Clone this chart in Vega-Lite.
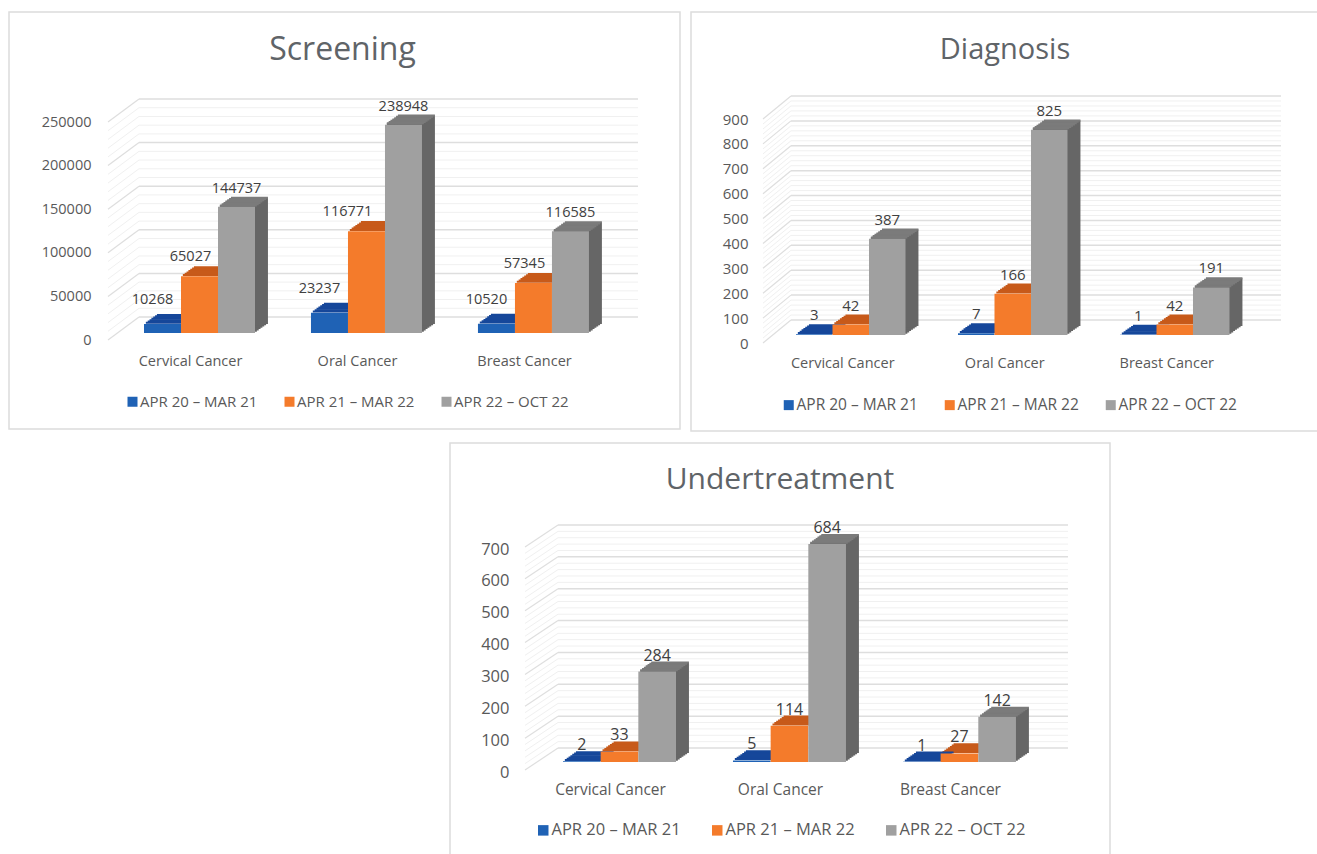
{
"$schema":"https://vega.github.io/schema/vega-lite/v6.json",
"background":"white",
"padding":{"left":8,"top":11,"right":0,"bottom":0},
"autosize":{"type":"pad"},
"bounds":"full",
"spacing":10,
"resolve":{"scale":{"color":"independent"},"legend":{"color":"independent"}},
"config":{"view":{"stroke":"#dcdcdc","strokeWidth":1.5,"fill":"white"},"font":"Open Sans","text":{"font":"Open Sans"},"axis":{"labelFont":"Open Sans"},"legend":{"labelFont":"Open Sans"},"title":{"font":"Open Sans"}},
"vconcat":[
{"resolve":{"scale":{"color":"independent"},"legend":{"color":"independent"}},
"hconcat":[
{"width":671,"height":417,
"title":{"text":"Screening","fontSize":32,"fontWeight":"normal","color":"#5f6468","offset":-55,"dx":-2,"anchor":"middle","frame":"group"},
"resolve":{"scale":{"x":"independent"},"axis":{"x":"independent","y":"independent"}},
"layer":[
{"data":{"values":[10000,20000,30000,40000,60000,70000,80000,90000,110000,120000,130000,140000,160000,170000,180000,190000,210000,220000,230000,240000]},
"encoding":{"x":{"datum":0.0585,"type":"quantitative","scale":{"domain":[0,1],"range":[99,629]},"axis":null},"x2":{"datum":1},"y":{"field":"data","type":"quantitative","scale":{"domain":[0,250000],"range":[321,103]},"axis":null}},
"layer":[{"mark":{"type":"rule","color":"#f0f0f0","strokeWidth":1,"yOffset":-16}},
{"mark":{"type":"rule","color":"#f0f0f0","strokeWidth":1,"yOffset":7,"y2Offset":-16},"encoding":{"x":{"datum":0,"type":"quantitative","axis":null},"x2":{"datum":0.0585},"y2":{"field":"data"}}}]},
{"data":{"values":[0,50000,100000,150000,200000,250000]},
"encoding":{"x":{"datum":0.0585,"type":"quantitative","scale":{"domain":[0,1],"range":[99,629]},"axis":null},"x2":{"datum":1},"y":{"field":"data","type":"quantitative","scale":{"domain":[0,250000],"range":[321,103]},"axis":null}},
"layer":[{"mark":{"type":"rule","color":"#dedede","strokeWidth":1.5,"yOffset":-16}},
{"mark":{"type":"rule","color":"#dedede","strokeWidth":1.2,"yOffset":7,"y2Offset":-16},"encoding":{"x":{"datum":0,"type":"quantitative","axis":null},"x2":{"datum":0.0585},"y2":{"field":"data"}}}]},
{"data":{"values":[
{"cancer":"Cervical Cancer","period":"APR 20 – MAR 21","value":10268},{"cancer":"Cervical Cancer","period":"APR 21 – MAR 22","value":65027},{"cancer":"Cervical Cancer","period":"APR 22 – OCT 22","value":144737},
{"cancer":"Oral Cancer","period":"APR 20 – MAR 21","value":23237},{"cancer":"Oral Cancer","period":"APR 21 – MAR 22","value":116771},{"cancer":"Oral Cancer","period":"APR 22 – OCT 22","value":238948},
{"cancer":"Breast Cancer","period":"APR 20 – MAR 21","value":10520},{"cancer":"Breast Cancer","period":"APR 21 – MAR 22","value":57345},{"cancer":"Breast Cancer","period":"APR 22 – OCT 22","value":116585}]},
"resolve":{"scale":{"xOffset":"independent"},"axis":{"x":"independent","y":"independent"}},
"encoding":{
"x":{"field":"cancer","type":"nominal","scale":{"domain":["Cervical Cancer","Oral Cancer","Breast Cancer"],"range":[135,580],"paddingInner":0.335,"paddingOuter":0},"axis":null},
"xOffset":{"field":"period","type":"nominal","scale":{"type":"band","domain":["APR 20 – MAR 21","APR 21 – MAR 22","APR 22 – OCT 22"],"range":[0,111],"paddingInner":0,"paddingOuter":0}},
"y":{"field":"value","type":"quantitative","scale":{"domain":[0,250000],"range":[321,103]},"axis":null}},
"layer":[
{"transform":[{"filter":"datum.period=='APR 22 – OCT 22'"}],
"resolve":{"scale":{"xOffset":"independent"}},
"layer":[
{"mark":{"type":"bar","color":"#666666","yOffset":-1.3,"y2Offset":-1.3},"encoding":{"xOffset":{"field":"period","type":"nominal","scale":{"type":"band","domain":["APR 20 – MAR 21","APR 21 – MAR 22","APR 22 – OCT 22"],"range":[1.85,112.85]}}}},
{"mark":{"type":"bar","color":"#666666","yOffset":-2.6,"y2Offset":-2.6},"encoding":{"xOffset":{"field":"period","type":"nominal","scale":{"type":"band","domain":["APR 20 – MAR 21","APR 21 – MAR 22","APR 22 – OCT 22"],"range":[3.7,114.7]}}}},
{"mark":{"type":"bar","color":"#666666","yOffset":-3.9,"y2Offset":-3.9},"encoding":{"xOffset":{"field":"period","type":"nominal","scale":{"type":"band","domain":["APR 20 – MAR 21","APR 21 – MAR 22","APR 22 – OCT 22"],"range":[5.55,116.55]}}}},
{"mark":{"type":"bar","color":"#666666","yOffset":-5.2,"y2Offset":-5.2},"encoding":{"xOffset":{"field":"period","type":"nominal","scale":{"type":"band","domain":["APR 20 – MAR 21","APR 21 – MAR 22","APR 22 – OCT 22"],"range":[7.4,118.4]}}}},
{"mark":{"type":"bar","color":"#666666","yOffset":-6.5,"y2Offset":-6.5},"encoding":{"xOffset":{"field":"period","type":"nominal","scale":{"type":"band","domain":["APR 20 – MAR 21","APR 21 – MAR 22","APR 22 – OCT 22"],"range":[9.25,120.25]}}}},
{"mark":{"type":"bar","color":"#666666","yOffset":-7.8,"y2Offset":-7.8},"encoding":{"xOffset":{"field":"period","type":"nominal","scale":{"type":"band","domain":["APR 20 – MAR 21","APR 21 – MAR 22","APR 22 – OCT 22"],"range":[11.1,122.1]}}}},
{"mark":{"type":"bar","color":"#666666","yOffset":-9.1,"y2Offset":-9.1},"encoding":{"xOffset":{"field":"period","type":"nominal","scale":{"type":"band","domain":["APR 20 – MAR 21","APR 21 – MAR 22","APR 22 – OCT 22"],"range":[12.95,123.95]}}}}
]},
{"resolve":{"scale":{"xOffset":"independent"}},
"encoding":{"y2":{"field":"value"},"stroke":{"field":"period","type":"nominal","scale":{"range":["#16479a","#c75a1a","#7b7b7b"]},"legend":null}},
"layer":[
{"mark":{"type":"bar","strokeWidth":2,"yOffset":-1.3,"y2Offset":-1.3},"encoding":{"xOffset":{"field":"period","type":"nominal","scale":{"type":"band","range":[1.85,112.85]}}}},
{"mark":{"type":"bar","strokeWidth":2,"yOffset":-2.6,"y2Offset":-2.6},"encoding":{"xOffset":{"field":"period","type":"nominal","scale":{"type":"band","range":[3.7,114.7]}}}},
{"mark":{"type":"bar","strokeWidth":2,"yOffset":-3.9,"y2Offset":-3.9},"encoding":{"xOffset":{"field":"period","type":"nominal","scale":{"type":"band","range":[5.55,116.55]}}}},
{"mark":{"type":"bar","strokeWidth":2,"yOffset":-5.2,"y2Offset":-5.2},"encoding":{"xOffset":{"field":"period","type":"nominal","scale":{"type":"band","range":[7.4,118.4]}}}},
{"mark":{"type":"bar","strokeWidth":2,"yOffset":-6.5,"y2Offset":-6.5},"encoding":{"xOffset":{"field":"period","type":"nominal","scale":{"type":"band","range":[9.25,120.25]}}}},
{"mark":{"type":"bar","strokeWidth":2,"yOffset":-7.8,"y2Offset":-7.8},"encoding":{"xOffset":{"field":"period","type":"nominal","scale":{"type":"band","range":[11.1,122.1]}}}},
{"mark":{"type":"bar","strokeWidth":2,"yOffset":-9.1,"y2Offset":-9.1},"encoding":{"xOffset":{"field":"period","type":"nominal","scale":{"type":"band","range":[12.95,123.95]}}}}
]},
{"mark":{"type":"bar"},"encoding":{
"color":{"field":"period","type":"nominal","scale":{"domain":["APR 20 – MAR 21","APR 21 – MAR 22","APR 22 – OCT 22"],"range":["#1f62b5","#f47b2b","#a0a0a0"]},"legend":{"orient":"none","legendX":116,"legendY":382,"direction":"horizontal","title":null,"symbolType":"square","symbolSize":100,"symbolStrokeWidth":0,"labelFontSize":15,"labelColor":"#595959","labelOffset":0,"columnPadding":24,"padding":0,"labelLimit":300}},
"x":{"field":"cancer","type":"nominal","axis":{"orient":"bottom","offset":-75,"title":null,"domain":false,"ticks":false,"labelAngle":0,"labelPadding":0,"labelFontSize":14.5,"labelColor":"#595959","labelOffset":-9}},
"y":{"field":"value","type":"quantitative","axis":{"offset":-82,"title":null,"domain":false,"ticks":false,"grid":false,"values":[0,50000,100000,150000,200000,250000],"format":"d","labelPadding":0,"labelFontSize":14.5,"labelColor":"#595959","labelOffset":7}}}},
{"transform":[{"filter":"datum.period=='APR 22 – OCT 22'"}],"mark":{"type":"text","fontSize":14.5,"color":"#404040","dy":-18},"encoding":{"text":{"field":"value"}}},
{"transform":[{"filter":"datum.period=='APR 21 – MAR 22' && datum.value<100000"}],"mark":{"type":"text","fontSize":14.5,"color":"#404040","dx":-9,"dy":-19},"encoding":{"text":{"field":"value"}}},
{"transform":[{"filter":"datum.period=='APR 21 – MAR 22' && datum.value>100000"}],"mark":{"type":"text","fontSize":14.5,"color":"#404040","dx":-19,"dy":-19},"encoding":{"text":{"field":"value"}}},
{"transform":[{"filter":"datum.period=='APR 20 – MAR 21'"}],"mark":{"type":"text","fontSize":14.5,"color":"#404040","dx":-10,"dy":-24},"encoding":{"text":{"field":"value"}}}
]}
]},
{"width":628,"height":419,
"title":{"text":"Diagnosis","fontSize":29,"fontWeight":"normal","color":"#5f6468","offset":-53,"anchor":"middle","frame":"group"},
"resolve":{"scale":{"x":"independent"},"axis":{"x":"independent","y":"independent"}},
"layer":[
{"data":{"values":[20,40,60,80,120,140,160,180,220,240,260,280,320,340,360,380,420,440,460,480,520,540,560,580,620,640,660,680,720,740,760,780,820,840,860,880]},
"encoding":{"x":{"datum":0.054,"type":"quantitative","scale":{"domain":[0,1],"range":[72,590]},"axis":null},"x2":{"datum":1},"y":{"field":"data","type":"quantitative","scale":{"domain":[0,900],"range":[323,99]},"axis":null}},
"layer":[{"mark":{"type":"rule","color":"#f0f0f0","strokeWidth":1,"yOffset":-15}},
{"mark":{"type":"rule","color":"#f0f0f0","strokeWidth":1,"yOffset":8,"y2Offset":-15},"encoding":{"x":{"datum":0,"type":"quantitative","axis":null},"x2":{"datum":0.054},"y2":{"field":"data"}}}]},
{"data":{"values":[0,100,200,300,400,500,600,700,800,900]},
"encoding":{"x":{"datum":0.054,"type":"quantitative","scale":{"domain":[0,1],"range":[72,590]},"axis":null},"x2":{"datum":1},"y":{"field":"data","type":"quantitative","scale":{"domain":[0,900],"range":[323,99]},"axis":null}},
"layer":[{"mark":{"type":"rule","color":"#dedede","strokeWidth":1.5,"yOffset":-15}},
{"mark":{"type":"rule","color":"#dedede","strokeWidth":1.2,"yOffset":8,"y2Offset":-15},"encoding":{"x":{"datum":0,"type":"quantitative","axis":null},"x2":{"datum":0.054},"y2":{"field":"data"}}}]},
{"data":{"values":[
{"cancer":"Cervical Cancer","period":"APR 20 – MAR 21","value":3},{"cancer":"Cervical Cancer","period":"APR 21 – MAR 22","value":42},{"cancer":"Cervical Cancer","period":"APR 22 – OCT 22","value":387},
{"cancer":"Oral Cancer","period":"APR 20 – MAR 21","value":7},{"cancer":"Oral Cancer","period":"APR 21 – MAR 22","value":166},{"cancer":"Oral Cancer","period":"APR 22 – OCT 22","value":825},
{"cancer":"Breast Cancer","period":"APR 20 – MAR 21","value":1},{"cancer":"Breast Cancer","period":"APR 21 – MAR 22","value":42},{"cancer":"Breast Cancer","period":"APR 22 – OCT 22","value":191}]},
"resolve":{"scale":{"xOffset":"independent"},"axis":{"x":"independent","y":"independent"}},
"encoding":{
"x":{"field":"cancer","type":"nominal","scale":{"domain":["Cervical Cancer","Oral Cancer","Breast Cancer"],"range":[105,538.5],"paddingInner":0.324,"paddingOuter":0},"axis":null},
"xOffset":{"field":"period","type":"nominal","scale":{"type":"band","domain":["APR 20 – MAR 21","APR 21 – MAR 22","APR 22 – OCT 22"],"range":[0,109.5],"paddingInner":0,"paddingOuter":0}},
"y":{"field":"value","type":"quantitative","scale":{"domain":[0,900],"range":[323,99]},"axis":null}},
"layer":[
{"transform":[{"filter":"datum.period=='APR 22 – OCT 22'"}],
"resolve":{"scale":{"xOffset":"independent"}},
"layer":[
{"mark":{"type":"bar","color":"#666666","yOffset":-1.3,"y2Offset":-1.3},"encoding":{"xOffset":{"field":"period","type":"nominal","scale":{"type":"band","domain":["APR 20 – MAR 21","APR 21 – MAR 22","APR 22 – OCT 22"],"range":[1.85,111.35]}}}},
{"mark":{"type":"bar","color":"#666666","yOffset":-2.6,"y2Offset":-2.6},"encoding":{"xOffset":{"field":"period","type":"nominal","scale":{"type":"band","domain":["APR 20 – MAR 21","APR 21 – MAR 22","APR 22 – OCT 22"],"range":[3.7,113.2]}}}},
{"mark":{"type":"bar","color":"#666666","yOffset":-3.9,"y2Offset":-3.9},"encoding":{"xOffset":{"field":"period","type":"nominal","scale":{"type":"band","domain":["APR 20 – MAR 21","APR 21 – MAR 22","APR 22 – OCT 22"],"range":[5.55,115.05]}}}},
{"mark":{"type":"bar","color":"#666666","yOffset":-5.2,"y2Offset":-5.2},"encoding":{"xOffset":{"field":"period","type":"nominal","scale":{"type":"band","domain":["APR 20 – MAR 21","APR 21 – MAR 22","APR 22 – OCT 22"],"range":[7.4,116.9]}}}},
{"mark":{"type":"bar","color":"#666666","yOffset":-6.5,"y2Offset":-6.5},"encoding":{"xOffset":{"field":"period","type":"nominal","scale":{"type":"band","domain":["APR 20 – MAR 21","APR 21 – MAR 22","APR 22 – OCT 22"],"range":[9.25,118.75]}}}},
{"mark":{"type":"bar","color":"#666666","yOffset":-7.8,"y2Offset":-7.8},"encoding":{"xOffset":{"field":"period","type":"nominal","scale":{"type":"band","domain":["APR 20 – MAR 21","APR 21 – MAR 22","APR 22 – OCT 22"],"range":[11.1,120.6]}}}},
{"mark":{"type":"bar","color":"#666666","yOffset":-9.1,"y2Offset":-9.1},"encoding":{"xOffset":{"field":"period","type":"nominal","scale":{"type":"band","domain":["APR 20 – MAR 21","APR 21 – MAR 22","APR 22 – OCT 22"],"range":[12.95,122.45]}}}}
]},
{"resolve":{"scale":{"xOffset":"independent"}},
"encoding":{"y2":{"field":"value"},"stroke":{"field":"period","type":"nominal","scale":{"range":["#16479a","#c75a1a","#7b7b7b"]},"legend":null}},
"layer":[
{"mark":{"type":"bar","strokeWidth":2,"yOffset":-1.3,"y2Offset":-1.3},"encoding":{"xOffset":{"field":"period","type":"nominal","scale":{"type":"band","range":[1.85,111.35]}}}},
{"mark":{"type":"bar","strokeWidth":2,"yOffset":-2.6,"y2Offset":-2.6},"encoding":{"xOffset":{"field":"period","type":"nominal","scale":{"type":"band","range":[3.7,113.2]}}}},
{"mark":{"type":"bar","strokeWidth":2,"yOffset":-3.9,"y2Offset":-3.9},"encoding":{"xOffset":{"field":"period","type":"nominal","scale":{"type":"band","range":[5.55,115.05]}}}},
{"mark":{"type":"bar","strokeWidth":2,"yOffset":-5.2,"y2Offset":-5.2},"encoding":{"xOffset":{"field":"period","type":"nominal","scale":{"type":"band","range":[7.4,116.9]}}}},
{"mark":{"type":"bar","strokeWidth":2,"yOffset":-6.5,"y2Offset":-6.5},"encoding":{"xOffset":{"field":"period","type":"nominal","scale":{"type":"band","range":[9.25,118.75]}}}},
{"mark":{"type":"bar","strokeWidth":2,"yOffset":-7.8,"y2Offset":-7.8},"encoding":{"xOffset":{"field":"period","type":"nominal","scale":{"type":"band","range":[11.1,120.6]}}}},
{"mark":{"type":"bar","strokeWidth":2,"yOffset":-9.1,"y2Offset":-9.1},"encoding":{"xOffset":{"field":"period","type":"nominal","scale":{"type":"band","range":[12.95,122.45]}}}}
]},
{"mark":{"type":"bar"},"encoding":{
"color":{"field":"period","type":"nominal","scale":{"domain":["APR 20 – MAR 21","APR 21 – MAR 22","APR 22 – OCT 22"],"range":["#1f62b5","#f47b2b","#a0a0a0"]},"legend":{"orient":"none","legendX":90,"legendY":385,"direction":"horizontal","title":null,"symbolType":"square","symbolSize":100,"symbolStrokeWidth":0,"labelFontSize":15.5,"labelColor":"#595959","labelOffset":0,"columnPadding":24,"padding":0,"labelLimit":300}},
"x":{"field":"cancer","type":"nominal","axis":{"orient":"bottom","offset":-75,"title":null,"domain":false,"ticks":false,"labelAngle":0,"labelPadding":0,"labelFontSize":14.5,"labelColor":"#595959","labelOffset":-8}},
"y":{"field":"value","type":"quantitative","axis":{"offset":-57,"title":null,"domain":false,"ticks":false,"grid":false,"values":[0,100,200,300,400,500,600,700,800,900],"format":"d","labelPadding":0,"labelFontSize":15,"labelColor":"#595959","labelOffset":8}}}},
{"transform":[{"filter":"datum.value>=0"}],"mark":{"type":"text","fontSize":15,"color":"#404040","dy":-19},"encoding":{"text":{"field":"value"}}}
]}
]}
],"spacing":11,"bounds":"flush"},
{"resolve":{"scale":{"color":"independent"},"legend":{"color":"independent"}},
"hconcat":[
{"width":431,"height":10,"view":{"stroke":null,"fill":null},"data":{"values":[]},"mark":{"type":"rule"},"encoding":{}},
{"width":660,"height":414,
"title":{"text":"Undertreatment","fontSize":30,"fontWeight":"normal","color":"#5f6468","offset":-52,"anchor":"middle","frame":"group"},
"resolve":{"scale":{"x":"independent"},"axis":{"x":"independent","y":"independent"}},
"layer":[
{"data":{"values":[20,40,60,80,120,140,160,180,220,240,260,280,320,340,360,380,420,440,460,480,520,540,560,580,620,640,660,680]},
"encoding":{"x":{"datum":0.0608,"type":"quantitative","scale":{"domain":[0,1],"range":[75,618]},"axis":null},"x2":{"datum":1},"y":{"field":"data","type":"quantitative","scale":{"domain":[0,700],"range":[319,96]},"axis":null}},
"layer":[{"mark":{"type":"rule","color":"#f0f0f0","strokeWidth":1,"yOffset":-14}},
{"mark":{"type":"rule","color":"#f0f0f0","strokeWidth":1,"yOffset":8,"y2Offset":-14},"encoding":{"x":{"datum":0,"type":"quantitative","axis":null},"x2":{"datum":0.0608},"y2":{"field":"data"}}}]},
{"data":{"values":[0,100,200,300,400,500,600,700]},
"encoding":{"x":{"datum":0.0608,"type":"quantitative","scale":{"domain":[0,1],"range":[75,618]},"axis":null},"x2":{"datum":1},"y":{"field":"data","type":"quantitative","scale":{"domain":[0,700],"range":[319,96]},"axis":null}},
"layer":[{"mark":{"type":"rule","color":"#dedede","strokeWidth":1.5,"yOffset":-14}},
{"mark":{"type":"rule","color":"#dedede","strokeWidth":1.2,"yOffset":8,"y2Offset":-14},"encoding":{"x":{"datum":0,"type":"quantitative","axis":null},"x2":{"datum":0.0608},"y2":{"field":"data"}}}]},
{"data":{"values":[
{"cancer":"Cervical Cancer","period":"APR 20 – MAR 21","value":2},{"cancer":"Cervical Cancer","period":"APR 21 – MAR 22","value":33},{"cancer":"Cervical Cancer","period":"APR 22 – OCT 22","value":284},
{"cancer":"Oral Cancer","period":"APR 20 – MAR 21","value":5},{"cancer":"Oral Cancer","period":"APR 21 – MAR 22","value":114},{"cancer":"Oral Cancer","period":"APR 22 – OCT 22","value":684},
{"cancer":"Breast Cancer","period":"APR 20 – MAR 21","value":1},{"cancer":"Breast Cancer","period":"APR 21 – MAR 22","value":27},{"cancer":"Breast Cancer","period":"APR 22 – OCT 22","value":142}]},
"resolve":{"scale":{"xOffset":"independent"},"axis":{"x":"independent","y":"independent"}},
"encoding":{
"x":{"field":"cancer","type":"nominal","scale":{"domain":["Cervical Cancer","Oral Cancer","Breast Cancer"],"range":[113,566],"paddingInner":0.335,"paddingOuter":0},"axis":null},
"xOffset":{"field":"period","type":"nominal","scale":{"type":"band","domain":["APR 20 – MAR 21","APR 21 – MAR 22","APR 22 – OCT 22"],"range":[0,113],"paddingInner":0,"paddingOuter":0}},
"y":{"field":"value","type":"quantitative","scale":{"domain":[0,700],"range":[319,96]},"axis":null}},
"layer":[
{"transform":[{"filter":"datum.period=='APR 22 – OCT 22'"}],
"resolve":{"scale":{"xOffset":"independent"}},
"layer":[
{"mark":{"type":"bar","color":"#666666","yOffset":-1.3,"y2Offset":-1.3},"encoding":{"xOffset":{"field":"period","type":"nominal","scale":{"type":"band","domain":["APR 20 – MAR 21","APR 21 – MAR 22","APR 22 – OCT 22"],"range":[1.85,114.85]}}}},
{"mark":{"type":"bar","color":"#666666","yOffset":-2.6,"y2Offset":-2.6},"encoding":{"xOffset":{"field":"period","type":"nominal","scale":{"type":"band","domain":["APR 20 – MAR 21","APR 21 – MAR 22","APR 22 – OCT 22"],"range":[3.7,116.7]}}}},
{"mark":{"type":"bar","color":"#666666","yOffset":-3.9,"y2Offset":-3.9},"encoding":{"xOffset":{"field":"period","type":"nominal","scale":{"type":"band","domain":["APR 20 – MAR 21","APR 21 – MAR 22","APR 22 – OCT 22"],"range":[5.55,118.55]}}}},
{"mark":{"type":"bar","color":"#666666","yOffset":-5.2,"y2Offset":-5.2},"encoding":{"xOffset":{"field":"period","type":"nominal","scale":{"type":"band","domain":["APR 20 – MAR 21","APR 21 – MAR 22","APR 22 – OCT 22"],"range":[7.4,120.4]}}}},
{"mark":{"type":"bar","color":"#666666","yOffset":-6.5,"y2Offset":-6.5},"encoding":{"xOffset":{"field":"period","type":"nominal","scale":{"type":"band","domain":["APR 20 – MAR 21","APR 21 – MAR 22","APR 22 – OCT 22"],"range":[9.25,122.25]}}}},
{"mark":{"type":"bar","color":"#666666","yOffset":-7.8,"y2Offset":-7.8},"encoding":{"xOffset":{"field":"period","type":"nominal","scale":{"type":"band","domain":["APR 20 – MAR 21","APR 21 – MAR 22","APR 22 – OCT 22"],"range":[11.1,124.1]}}}},
{"mark":{"type":"bar","color":"#666666","yOffset":-9.1,"y2Offset":-9.1},"encoding":{"xOffset":{"field":"period","type":"nominal","scale":{"type":"band","domain":["APR 20 – MAR 21","APR 21 – MAR 22","APR 22 – OCT 22"],"range":[12.95,125.95]}}}}
]},
{"resolve":{"scale":{"xOffset":"independent"}},
"encoding":{"y2":{"field":"value"},"stroke":{"field":"period","type":"nominal","scale":{"range":["#16479a","#c75a1a","#7b7b7b"]},"legend":null}},
"layer":[
{"mark":{"type":"bar","strokeWidth":2,"yOffset":-1.3,"y2Offset":-1.3},"encoding":{"xOffset":{"field":"period","type":"nominal","scale":{"type":"band","range":[1.85,114.85]}}}},
{"mark":{"type":"bar","strokeWidth":2,"yOffset":-2.6,"y2Offset":-2.6},"encoding":{"xOffset":{"field":"period","type":"nominal","scale":{"type":"band","range":[3.7,116.7]}}}},
{"mark":{"type":"bar","strokeWidth":2,"yOffset":-3.9,"y2Offset":-3.9},"encoding":{"xOffset":{"field":"period","type":"nominal","scale":{"type":"band","range":[5.55,118.55]}}}},
{"mark":{"type":"bar","strokeWidth":2,"yOffset":-5.2,"y2Offset":-5.2},"encoding":{"xOffset":{"field":"period","type":"nominal","scale":{"type":"band","range":[7.4,120.4]}}}},
{"mark":{"type":"bar","strokeWidth":2,"yOffset":-6.5,"y2Offset":-6.5},"encoding":{"xOffset":{"field":"period","type":"nominal","scale":{"type":"band","range":[9.25,122.25]}}}},
{"mark":{"type":"bar","strokeWidth":2,"yOffset":-7.8,"y2Offset":-7.8},"encoding":{"xOffset":{"field":"period","type":"nominal","scale":{"type":"band","range":[11.1,124.1]}}}},
{"mark":{"type":"bar","strokeWidth":2,"yOffset":-9.1,"y2Offset":-9.1},"encoding":{"xOffset":{"field":"period","type":"nominal","scale":{"type":"band","range":[12.95,125.95]}}}}
]},
{"mark":{"type":"bar"},"encoding":{
"color":{"field":"period","type":"nominal","scale":{"domain":["APR 20 – MAR 21","APR 21 – MAR 22","APR 22 – OCT 22"],"range":["#1f62b5","#f47b2b","#a0a0a0"]},"legend":{"orient":"none","legendX":85,"legendY":379,"direction":"horizontal","title":null,"symbolType":"square","symbolSize":110,"symbolStrokeWidth":0,"labelFontSize":16.5,"labelColor":"#595959","labelOffset":0,"columnPadding":28,"padding":0,"labelLimit":300}},
"x":{"field":"cancer","type":"nominal","axis":{"orient":"bottom","offset":-75,"title":null,"domain":false,"ticks":false,"labelAngle":0,"labelPadding":0,"labelFontSize":15.5,"labelColor":"#595959","labelOffset":-9}},
"y":{"field":"value","type":"quantitative","axis":{"offset":-59,"title":null,"domain":false,"ticks":false,"grid":false,"values":[0,100,200,300,400,500,600,700],"format":"d","labelPadding":0,"labelFontSize":16.5,"labelColor":"#595959","labelOffset":10}}}},
{"transform":[{"filter":"datum.value>=0"}],"mark":{"type":"text","fontSize":16,"color":"#404040","dy":-16},"encoding":{"text":{"field":"value"}}}
]}
]}
],"spacing":10,"bounds":"flush"}
]}
